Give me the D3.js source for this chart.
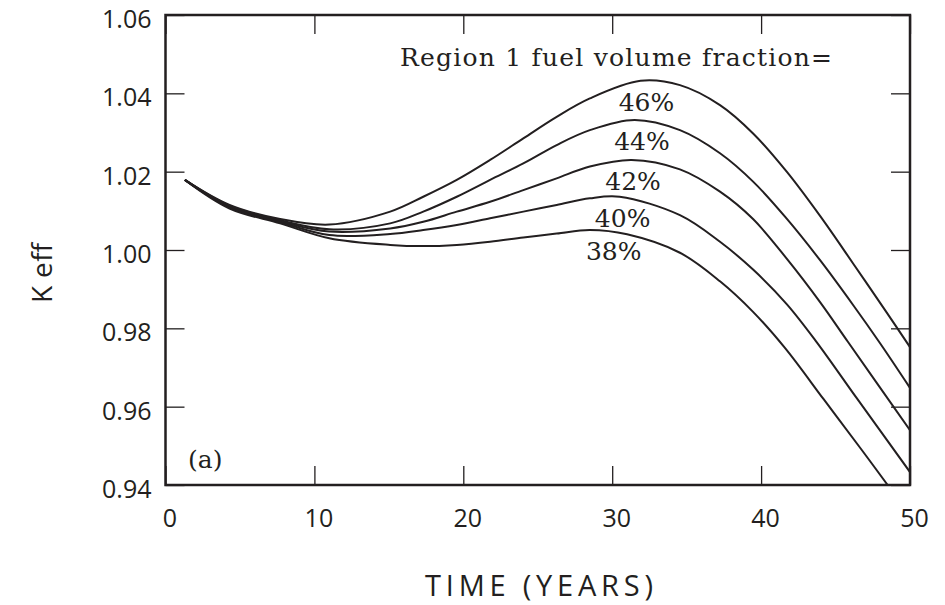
<!DOCTYPE html>
<html>
<head>
<meta charset="utf-8">
<script src="https://cdn.jsdelivr.net/npm/d3@7"></script>
<style>
body { margin: 0; background: #fff; }
</style>
</head>
<body>
<script>
const xTicks = [0, 10, 20, 30, 40, 50]
const yTicks = [0.94, 0.96, 0.98, 1.00, 1.02, 1.04, 1.06]
const fractions = ['38%', '40%', '42%', '44%', '46%']
const labelYears = [30.1, 30.7, 31.4, 32.0, 32.3]

// [time (years), k eff]
const k38 = [[1.3,1.0179],[4.3,1.0106],[7.7,1.0068],[11,1.0030],[15.09,1.0013],[17.31,1.0010],[19.56,1.0013],[21.8,1.0021],[24.03,1.0032],[26.27,1.0042],[28.5,1.0051],[31,1.0040],[34.55,0.9993],[37.24,0.9920],[39.46,0.9842],[41.6,0.9750],[44.2,0.9619],[46.75,0.9490],[48.5,0.94]]
const k40 = [[1.3,1.0179],[4.3,1.0109],[7.7,1.0071],[11,1.0038],[15.09,1.0041],[17.31,1.0051],[19.56,1.0064],[21.8,1.0081],[24.03,1.0098],[26.27,1.0115],[28.5,1.0132],[30.5,1.0136],[34.55,1.0089],[37.24,1.0021],[39.46,0.9950],[41.72,0.9862],[43.73,0.9765],[46.4,0.9623],[50,0.9433]]
const k42 = [[1.3,1.0179],[4.3,1.0111],[7.7,1.0073],[11,1.0047],[15.09,1.0055],[17.31,1.0072],[19.56,1.0098],[21.8,1.0123],[24.03,1.0153],[26.27,1.0183],[28.5,1.0213],[31.3,1.0230],[34.55,1.0206],[37.24,1.0149],[39.46,1.0079],[41.72,0.9978],[43.96,0.9867],[45.84,0.9765],[50,0.9540]]
const k44 = [[1.3,1.0179],[4.3,1.0113],[7.7,1.0076],[11,1.0053],[15.09,1.0068],[17.31,1.0098],[19.56,1.0136],[21.8,1.0179],[24.03,1.0221],[26.27,1.0268],[28.5,1.0306],[31.5,1.0332],[34.55,1.0306],[37.24,1.0247],[39.48,1.0174],[41.72,1.0080],[43.96,0.9974],[46.19,0.9859],[47.99,0.9762],[50,0.9648]]
const k46 = [[1.3,1.0179],[4.3,1.0115],[7.7,1.0079],[11,1.0065],[15.09,1.0098],[17.31,1.0136],[19.56,1.0179],[21.8,1.0230],[24.03,1.0285],[26.27,1.0340],[28.5,1.0387],[31.9,1.0432],[34.55,1.0421],[37.24,1.0370],[39.48,1.0297],[41.72,1.0200],[43.96,1.0087],[46.19,0.9965],[48.44,0.9840],[50,0.9752]]

const series = [k38, k40, k42, k44, k46]

const width = 945
const height = 605
const ink = '#231f20'
const sans = '"Open Sans", "DejaVu Sans", sans-serif'
const serif = '"DejaVu Serif", serif'

const svg = d3.select('body')
	.append('svg')
	.attr('width', width)
	.attr('height', height)

const x = d3.scaleLinear().domain([0, 50]).range([165.5, 910])
const y = d3.scaleLinear().domain([0.94, 1.06]).range([485, 15])

svg.append('clipPath')
	.attr('id', 'plot')
	.append('rect')
	.attr('x', x(0))
	.attr('y', y(1.06))
	.attr('width', x(50) - x(0))
	.attr('height', y(0.94) - y(1.06))

// inner ticks on all four sides
const tick = 19
const axLeft = svg.append('g')
	.attr('transform', `translate(${x(0)},0)`)
	.call(d3.axisLeft(y).tickValues(yTicks).tickSize(-tick).tickPadding(14).tickFormat(d3.format('.2f')))
const axRight = svg.append('g')
	.attr('transform', `translate(${x(50)},0)`)
	.call(d3.axisRight(y).tickValues(yTicks).tickSize(-tick).tickFormat(''))
const axBottom = svg.append('g')
	.attr('transform', `translate(0,${y(0.94)})`)
	.call(d3.axisBottom(x).tickValues(xTicks).tickSize(-tick).tickPadding(24))
const axTop = svg.append('g')
	.attr('transform', `translate(0,${y(1.06)})`)
	.call(d3.axisTop(x).tickValues(xTicks).tickSize(-tick).tickFormat(''))

;[axLeft, axRight, axBottom, axTop].forEach(g => {
	g.select('.domain').remove()
	g.selectAll('line').attr('stroke', ink).attr('stroke-width', 1.3)
	g.selectAll('text')
		.attr('fill', ink)
		.style('font-family', sans)
		.style('font-size', '25px')
})
axLeft.selectAll('text').attr('dy', '0.5em')
axBottom.selectAll('text').attr('dx', 4)

svg.append('rect')
	.attr('x', x(0))
	.attr('y', y(1.06))
	.attr('width', x(50) - x(0))
	.attr('height', y(0.94) - y(1.06))
	.attr('fill', 'none')
	.attr('stroke', ink)
	.attr('stroke-width', 2.5)

const line = d3.line()
	.x(d => x(d[0]))
	.y(d => y(d[1]))
	.curve(d3.curveCatmullRom.alpha(0.5))

svg.append('g')
	.attr('clip-path', 'url(#plot)')
	.selectAll('path')
	.data(series)
	.enter()
	.append('path')
	.attr('d', line)
	.attr('fill', 'none')
	.attr('stroke', ink)
	.attr('stroke-width', 2)

// percentage labels sit just under the hump of each curve
const hump = d => d3.max(d.filter(p => p[0] > 20), p => p[1])
svg.selectAll('text.frac')
	.data(series)
	.enter()
	.append('text')
	.attr('class', 'frac')
	.text((d, i) => fractions[i])
	.attr('x', (d, i) => x(labelYears[i]))
	.attr('y', d => y(hump(d)) + 30)
	.attr('text-anchor', 'middle')
	.attr('fill', ink)
	.style('font-family', serif)
	.style('font-size', '25px')

svg.append('text')
	.text('Region 1 fuel volume fraction=')
	.attr('x', 400)
	.attr('y', 66)
	.attr('textLength', 432)
	.attr('fill', ink)
	.style('font-family', serif)
	.style('font-size', '25px')

svg.append('text')
	.text('(a)')
	.attr('x', 188)
	.attr('y', 468)
	.attr('fill', ink)
	.style('font-family', serif)
	.style('font-size', '25px')

svg.append('text')
	.text('TIME (YEARS)')
	.attr('x', 425)
	.attr('y', 596)
	.attr('textLength', 228)
	.attr('fill', ink)
	.style('font-family', sans)
	.style('font-size', '29px')

svg.append('text')
	.text('K eff')
	.attr('transform', 'translate(52,303) rotate(-90)')
	.attr('textLength', 60)
	.attr('fill', ink)
	.style('font-family', sans)
	.style('font-size', '28px')
</script>
</body>
</html>
